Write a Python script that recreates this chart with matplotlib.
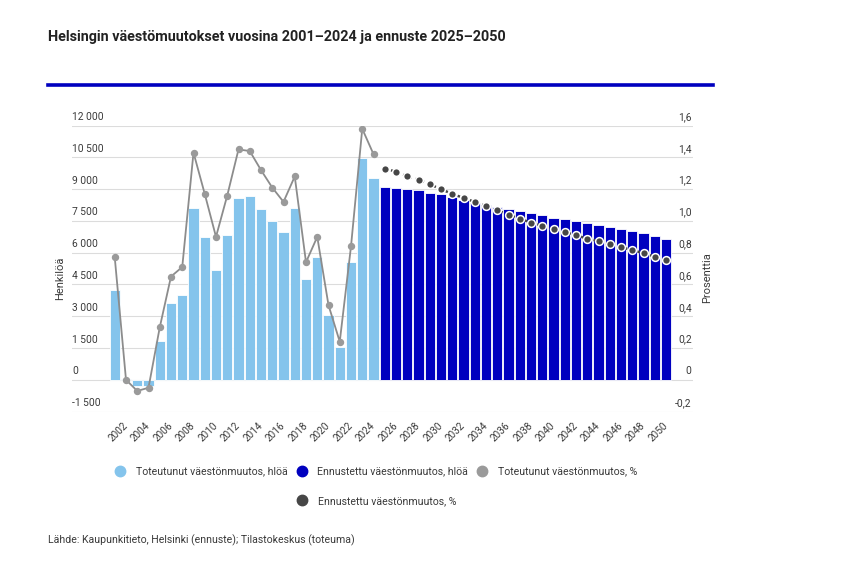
import matplotlib
matplotlib.use("Agg")
import matplotlib.pyplot as plt
from matplotlib.lines import Line2D

plt.rcParams['font.family'] = ['Roboto', 'DejaVu Sans']

# Data
years_actual = list(range(2001, 2025))
years_forecast = list(range(2025, 2051))

actual_change = [4230, 40, -290, -300, 1830, 3620, 4010, 8120, 6730, 5180, 6840, 8570,
                 8680, 8070, 7480, 6960, 8120, 4750, 5780, 3050, 1530, 5570, 10480, 9520]
forecast_change = [9100, 9050, 9000, 8950, 8830, 8770, 8640, 8510, 8370, 8260, 8150, 8050, 7990,
                   7860, 7780, 7660, 7590, 7500, 7410, 7330, 7230, 7120, 7040, 6930, 6780, 6650]

actual_pct = [0.77, 0.0, -0.07, -0.05, 0.33, 0.65, 0.71, 1.43, 1.17, 0.90, 1.16, 1.45,
              1.44, 1.32, 1.21, 1.12, 1.28, 0.74, 0.90, 0.47, 0.24, 0.84, 1.58, 1.42]
forecast_pct = [1.33, 1.31, 1.28, 1.26, 1.23, 1.20, 1.17, 1.145, 1.12, 1.095, 1.067, 1.04, 1.013,
                0.99, 0.97, 0.947, 0.93, 0.91, 0.888, 0.874, 0.853, 0.836, 0.815, 0.798, 0.775, 0.752]

left_ticks = [-1500, 0, 1500, 3000, 4500, 6000, 7500, 9000, 10500, 12000]
right_ticks = [-0.2, 0, 0.2, 0.4, 0.6, 0.8, 1.0, 1.2, 1.4, 1.6]
x_ticks = list(range(2002, 2051, 2))

title = "Helsingin väestömuutokset vuosina 2001–2024 ja ennuste 2025–2050"
source = "Lähde: Kaupunkitieto, Helsinki (ennuste); Tilastokeskus (toteuma)"
labels = ["Toteutunut väestönmuutos, hlöä", "Ennustettu väestönmuutos, hlöä",
          "Toteutunut väestönmuutos, %", "Ennustettu väestönmuutos, %"]

c_light = '#84c4ec'
c_dark = '#0000bf'
c_gray = '#9a9a9a'
c_dgray = '#464646'
c_text = '#3a3a3a'

W, H = 863, 576
fig = plt.figure(figsize=(W / 100, H / 100), dpi=100)
ax = fig.add_axes([72 / W, 1 - 411.6 / H, (693 - 72) / W, (411.6 - 125.6) / H])
ax2 = ax.twinx()

ax.bar(years_actual, actual_change, width=0.9, color=c_light, edgecolor='white', linewidth=0.6, zorder=2)
ax.bar(years_forecast, forecast_change, width=0.9, color=c_dark, edgecolor='white', linewidth=0.6, zorder=2)

ax2.plot(years_actual, actual_pct, color='#8c8c8c', lw=1.3, marker='o', ms=4.3,
         mfc=c_gray, mec=c_gray, zorder=3)
ax2.plot(years_forecast, forecast_pct, color=c_dgray, lw=1.8, ls=(0, (1, 1.6)), marker='o', ms=5.6,
         mfc=c_dgray, mec='white', mew=1.1, zorder=3)

ax.set_xlim(1997.2, 2052.4)
ax.set_ylim(-1500, 12000)
ax2.set_ylim(-0.2, 1.6)

for a in (ax, ax2):
    for s in a.spines.values():
        s.set_visible(False)
ax.set_yticks(left_ticks)
ax2.set_yticks(right_ticks)
ax.tick_params(axis='y', length=0, labelleft=False)
ax2.tick_params(axis='y', length=0, labelright=False)
ax.grid(axis='y', color='#dcdcdc', lw=0.8, zorder=0)
ax.set_axisbelow(True)

ax.set_xticks(x_ticks)
ax.set_xticklabels([str(y) for y in x_ticks], rotation=45, ha='right', va='center',
                   rotation_mode='anchor', fontsize=7.2, color=c_text)
ax.tick_params(axis='x', length=0, pad=9)

# y tick labels sit on top of the grid lines, inside the plot
for v in left_ticks:
    txt = f"{v:,}".replace(",", " ")
    ax.annotate(txt, xy=(0, v), xycoords=('axes fraction', 'data'), xytext=(0, 2.5),
                textcoords='offset points', ha='left', va='bottom', fontsize=7.4, color=c_text)
for v in right_ticks:
    txt = "0" if v == 0 else f"{v:.1f}".replace(".", ",")
    ax2.annotate(txt, xy=(1, v), xycoords=('axes fraction', 'data'), xytext=(-1, 2.5),
                 textcoords='offset points', ha='right', va='bottom', fontsize=7.4, color=c_text)

fig.text(60 / W, 1 - 278 / H, "Henkilöä", rotation=90, ha='center', va='center', fontsize=8, color=c_text)
fig.text(707 / W, 1 - 278 / H, "Prosenttia", rotation=90, ha='center', va='center', fontsize=8, color=c_text)

fig.text(48 / W, 1 - 37 / H, title, fontsize=10.4, fontweight='bold', color='#222222', va='center')
fig.add_artist(Line2D([48 / W, 713 / W], [1 - 84.5 / H] * 2, lw=2.6, color=c_dark))
fig.text(48 / W, 1 - 540 / H, source, fontsize=7.6, color=c_text, va='center')

def dot(c):
    return Line2D([], [], ls='none', marker='o', ms=7.5, mfc=c, mec=c)

leg_kw = dict(frameon=False, fontsize=7.6, handlelength=1.0, handletextpad=1.0, columnspacing=0.8,
              borderpad=0, borderaxespad=0, labelcolor=c_text)
fig.legend([dot(c_light), dot(c_dark), dot(c_gray)], labels[:3], ncol=3, loc='center left',
           bbox_to_anchor=(115 / W, 1 - 471.5 / H), **leg_kw)
fig.legend([dot(c_dgray)], labels[3:], loc='center left',
           bbox_to_anchor=(297 / W, 1 - 501 / H), **leg_kw)

fig.savefig("out.png", dpi=100)
